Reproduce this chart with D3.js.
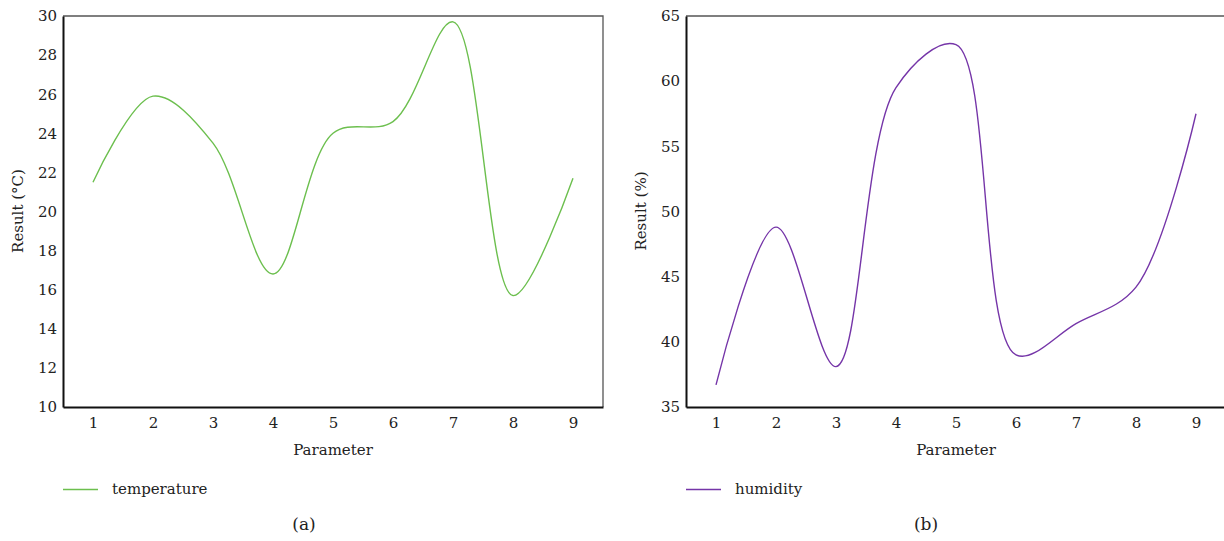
<!DOCTYPE html>
<html><head><meta charset="utf-8">
<script src="https://cdn.jsdelivr.net/npm/d3@7"></script>
<style>
html,body{margin:0;padding:0;background:#fff;}
svg text{font-family:"DejaVu Serif","Liberation Serif",serif;fill:#222;}
</style></head>
<body>
<svg id="c" width="1224" height="541"></svg>
<script>
const parameters = [1,2,3,4,5,6,7,8,9];
const temperature = [21.5,25.9,23.5,16.8,24.0,24.6,29.7,15.7,21.7];
const humidity = [36.7,48.8,38.1,59.5,62.8,39.0,41.4,44.2,57.5];
const tempTicks = [10,12,14,16,18,20,22,24,26,28,30];
const humTicks = [35,40,45,50,55,60,65];

const svg = d3.select("#c");

function panel(cfg){
  const g = svg.append("g");
  const x = d3.scaleLinear().domain([0.5,9.5]).range([cfg.left, cfg.left+540]);
  const y = d3.scaleLinear().domain(cfg.domain).range([407,16]);
  g.append("path").attr("d",`M${cfg.left},16H${cfg.left+540}V407`).attr("fill","none").attr("stroke","#555").attr("stroke-width",1.3);
  const ya = g.append("g").attr("transform",`translate(${cfg.left},0)`)
    .call(d3.axisLeft(y).tickValues(cfg.ticks).tickSize(0).tickPadding(6));
  ya.select(".domain").attr("stroke","#111").attr("stroke-width",2);
  ya.selectAll("text").attr("font-size",15).attr("fill","#222").attr("font-family","DejaVu Serif");
  const xa = g.append("g").attr("transform",`translate(0,407)`)
    .call(d3.axisBottom(x).tickValues(parameters).tickSize(0).tickPadding(10));
  xa.select(".domain").attr("stroke","#111").attr("stroke-width",2);
  xa.selectAll("text").attr("font-size",15).attr("fill","#222").attr("font-family","DejaVu Serif");
  const line = d3.line().x((d,i)=>x(parameters[i])).y(d=>y(d)).curve(d3.curveCatmullRom.alpha(0.5));
  g.append("path").datum(cfg.values).attr("d",line).attr("fill","none").attr("stroke",cfg.color).attr("stroke-width",1.4);
  g.append("text").attr("x",cfg.left+270).attr("y",455).attr("text-anchor","middle").attr("font-size",15).text("Parameter");
  g.append("text").attr("transform",`translate(${cfg.left-40},211) rotate(-90)`).attr("text-anchor","middle").attr("font-size",15).text(cfg.ylabel);
  g.append("line").attr("x1",cfg.left).attr("x2",cfg.left+35).attr("y1",489.5).attr("y2",489.5).attr("stroke",cfg.color).attr("stroke-width",1.6);
  g.append("text").attr("x",cfg.left+49).attr("y",494).attr("font-size",15).text(cfg.name);
  g.append("text").attr("x",cfg.capx).attr("y",530).attr("text-anchor","middle").attr("font-size",17).text(cfg.cap);
}
panel({left:63, domain:[10,30], ticks:tempTicks, values:temperature, color:"#6cbf4e", ylabel:"Result (°C)", name:"temperature", cap:"(a)", capx:304});
panel({left:686, domain:[35,65], ticks:humTicks, values:humidity, color:"#7535a8", ylabel:"Result (%)", name:"humidity", cap:"(b)", capx:926});
</script>
</body></html>
